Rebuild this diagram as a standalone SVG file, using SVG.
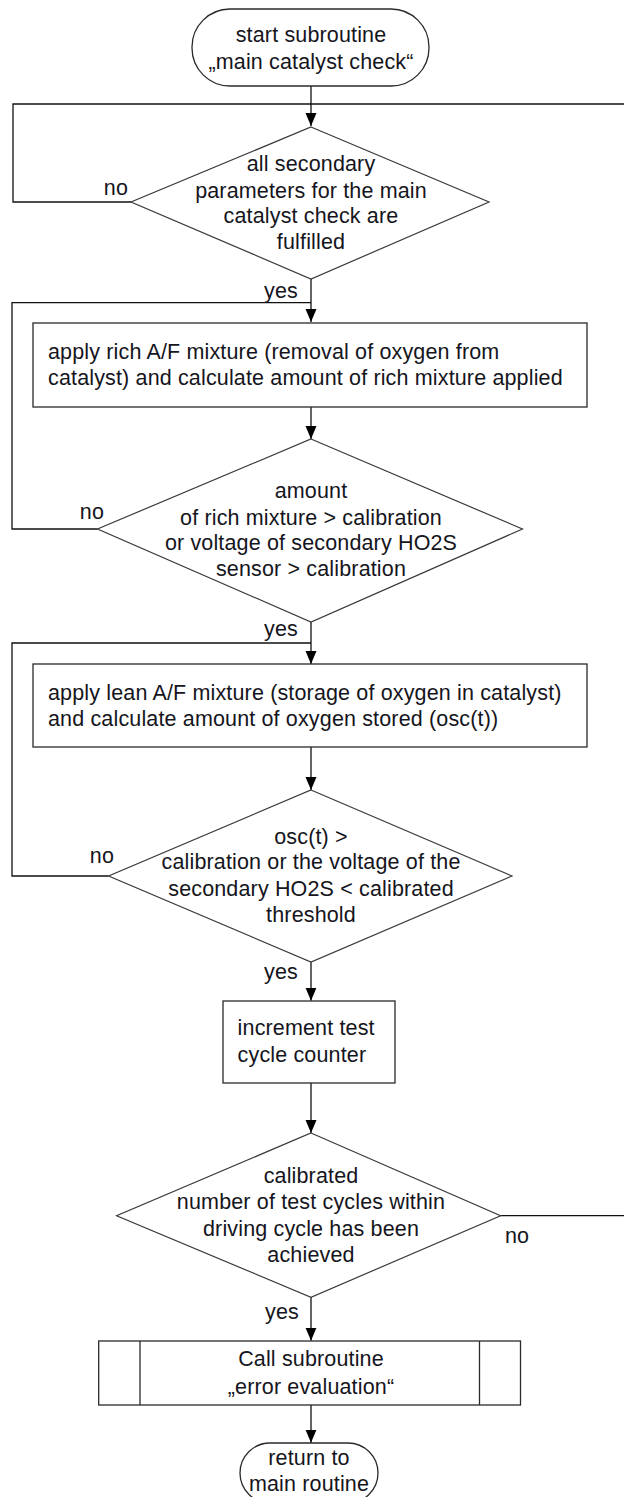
<svg xmlns="http://www.w3.org/2000/svg" width="624" height="1497" viewBox="0 0 624 1497">
<style>
.s{fill:#fff;stroke:#2a2a2a;stroke-width:1.3}
.d{fill:#fff;stroke:#3a3a3a;stroke-width:1.2}
.c{fill:none;stroke:#111;stroke-width:1.3}
text{font-family:"Liberation Sans",Arial,sans-serif;font-size:21.5px;fill:#151520;letter-spacing:0.15px}
.m{text-anchor:middle}
.e{text-anchor:end}
</style>
<defs>
<marker id="ah" markerUnits="userSpaceOnUse" markerWidth="14" markerHeight="12" refX="13" refY="5.5" orient="auto">
<path d="M0,0 L13,5.5 L0,11 z" fill="#000"/>
</marker>
</defs>
<rect width="624" height="1497" fill="#fff"/>
<g id="connectors">
<path class="c" d="M311,86 V126" marker-end="url(#ah)"/>
<path class="c" d="M131,202 H13 V104 H311"/>
<path class="c" d="M500.6,1215.7 H640 V104 H311"/>
<path class="c" d="M311,279 V322" marker-end="url(#ah)"/>
<path class="c" d="M97.5,529 H12 V302.7 H311"/>
<path class="c" d="M311,407 V439" marker-end="url(#ah)"/>
<path class="c" d="M311,622 V664" marker-end="url(#ah)"/>
<path class="c" d="M108.6,876 H12 V643 H311"/>
<path class="c" d="M311,747 V790" marker-end="url(#ah)"/>
<path class="c" d="M311,962 V1000.7" marker-end="url(#ah)"/>
<path class="c" d="M311,1083 V1133" marker-end="url(#ah)"/>
<path class="c" d="M311,1297 V1340.7" marker-end="url(#ah)"/>
<path class="c" d="M311,1405 V1442.7" marker-end="url(#ah)"/>
<text class="e" x="128" y="194.5">no</text>
<text class="e" x="298" y="297.5">yes</text>
<text class="e" x="104" y="518.5">no</text>
<text class="e" x="298" y="635.5">yes</text>
<text class="e" x="114" y="863">no</text>
<text class="e" x="298" y="979">yes</text>
<text x="505" y="1242.5">no</text>
<text class="e" x="299" y="1319">yes</text>
</g>
<g id="start">
<rect class="s" x="192" y="9" width="237" height="77" rx="38" ry="38"/>
<text class="m" x="311" y="41.5">start subroutine</text>
<text class="m" x="311" y="68.5">„main catalyst check“</text>
</g>
<g id="d1">
<polygon class="d" points="311,127 489,202 311,279 131,202"/>
<text class="m" x="311" y="170.5">all secondary</text>
<text class="m" x="311" y="197.5">parameters for the main</text>
<text class="m" x="311" y="222.5">catalyst check are</text>
<text class="m" x="311" y="248.5">fulfilled</text>
</g>
<g id="rich">
<rect class="s" x="33" y="323" width="554" height="84"/>
<text x="48" y="358.5">apply rich A/F mixture (removal of oxygen from</text>
<text x="48" y="384.5">catalyst) and calculate amount of rich mixture applied</text>
</g>
<g id="d2">
<polygon class="d" points="311,439 522.5,529 311,622 97.5,529"/>
<text class="m" x="311" y="497.5">amount</text>
<text class="m" x="311" y="524.5">of rich mixture &gt; calibration</text>
<text class="m" x="311" y="549.5">or voltage of secondary HO2S</text>
<text class="m" x="311" y="575.5">sensor &gt; calibration</text>
</g>
<g id="lean">
<rect class="s" x="33" y="664" width="554" height="83"/>
<text x="48" y="700">apply lean A/F mixture (storage of oxygen in catalyst)</text>
<text x="48" y="725.5">and calculate amount of oxygen stored (osc(t))</text>
</g>
<g id="d3">
<polygon class="d" points="311,790 512,876 311,962 108.6,876"/>
<text class="m" x="311" y="844">osc(t) &gt;</text>
<text class="m" x="311" y="869">calibration or the voltage of the</text>
<text class="m" x="311" y="895.5">secondary HO2S &lt; calibrated</text>
<text class="m" x="311" y="922">threshold</text>
</g>
<g id="inc">
<rect class="s" x="223" y="1001" width="172" height="82"/>
<text x="237.6" y="1035">increment test</text>
<text x="237.6" y="1061.5">cycle counter</text>
</g>
<g id="d4">
<polygon class="d" points="311,1133 500.6,1215.7 311,1297.3 116.6,1215.7"/>
<text class="m" x="311" y="1182.5">calibrated</text>
<text class="m" x="311" y="1209">number of test cycles within</text>
<text class="m" x="311" y="1235.5">driving cycle has been</text>
<text class="m" x="311" y="1262">achieved</text>
</g>
<g id="call">
<rect class="s" x="98.7" y="1341" width="421.8" height="64"/>
<line class="s" x1="140" y1="1341" x2="140" y2="1405"/>
<line class="s" x1="479.5" y1="1341" x2="479.5" y2="1405"/>
<text class="m" x="311" y="1365.5">Call subroutine</text>
<text class="m" x="311" y="1394">„error evaluation“</text>
</g>
<g id="end">
<rect class="s" x="240" y="1443" width="138" height="60" rx="30" ry="30"/>
<text class="m" x="309" y="1464.5">return to</text>
<text class="m" x="309" y="1490.5">main routine</text>
</g>
</svg>
